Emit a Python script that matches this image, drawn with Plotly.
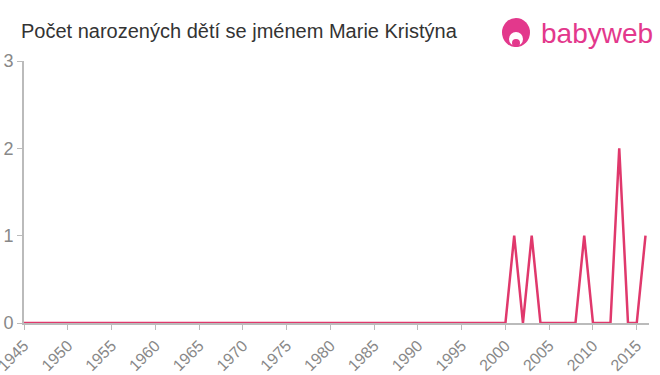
import plotly.graph_objects as go

years = list(range(1945, 2017))
nonzero = {2001: 1, 2003: 1, 2009: 1, 2013: 2, 2016: 1}
counts = [nonzero.get(y, 0) for y in years]
x_ticks = list(range(1945, 2016, 5))
y_ticks = [0, 1, 2, 3]
title_text = "Počet narozených dětí se jménem Marie Kristýna"
logo_text = "babyweb"

L, R, T, B = 24, 11, 61, 52
W, H = 660, 375
pw = W - L - R
ph = H - T - B


def px(x):
    return (x - L) / pw


def py(y):
    return (H - B - y) / ph


fig = go.Figure()
fig.add_trace(go.Scatter(x=years, y=counts, mode="lines",
                         line=dict(color="#e0386c", width=2.5), hoverinfo="x+y"))

fig.update_layout(
    width=W, height=H,
    margin=dict(l=L, r=R, t=T, b=B, autoexpand=False),
    paper_bgcolor="white", plot_bgcolor="white",
    showlegend=False,
    font=dict(family="Liberation Sans, Arial, sans-serif", color="#888888"),
    xaxis=dict(range=[1945, 2016.4], tickvals=x_ticks, ticktext=[str(v) for v in x_ticks],
               tickangle=-45, ticks="outside", ticklen=5, tickcolor="#bbbbbb",
               showline=True, linecolor="#bbbbbb", linewidth=2, showgrid=False,
               zeroline=False, automargin=False, ticklabeloverflow="allow",
               tickfont=dict(size=16, color="#888888")),
    yaxis=dict(range=[0, 3], tickvals=y_ticks, ticks="outside", ticklen=5,
               tickcolor="#bbbbbb", showline=True, linecolor="#bbbbbb", linewidth=2,
               showgrid=False, zeroline=False, automargin=False,
               tickfont=dict(size=18, color="#888888")),
)
fig.add_annotation(text=title_text, x=px(19), y=py(31), xref="paper", yref="paper",
                   showarrow=False, xanchor="left", yanchor="middle",
                   font=dict(size=20, color="#333333"))
fig.add_annotation(text=logo_text, x=px(539), y=py(33),
                   xref="paper", yref="paper", showarrow=False, xanchor="left",
                   yanchor="middle", font=dict(size=28, color="#e3388c",
                                               family="Liberation Sans, Arial, sans-serif"))
# logo icon
fig.add_shape(type="circle", xref="paper", yref="paper",
              x0=px(502), x1=px(530), y0=py(47), y1=py(18),
              fillcolor="#e3388c", line=dict(width=0))
fig.add_shape(type="circle", xref="paper", yref="paper",
              x0=px(509), x1=px(523), y0=py(46), y1=py(32),
              fillcolor="white", line=dict(width=0))
fig.add_shape(type="circle", xref="paper", yref="paper",
              x0=px(512), x1=px(520), y0=py(47), y1=py(39),
              fillcolor="#e3388c", line=dict(width=0))

fig.write_html("out.html")
